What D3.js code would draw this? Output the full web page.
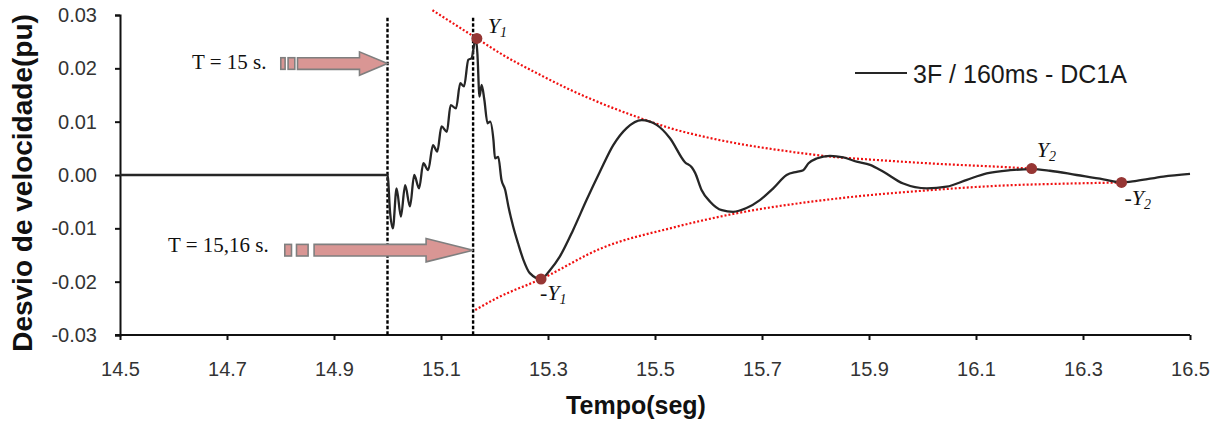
<!DOCTYPE html>
<html>
<head>
<meta charset="utf-8">
<script src="https://cdn.jsdelivr.net/npm/d3@7"></script>
<style>
  body { margin: 0; background: #fff; }
  svg { display: block; }
</style>
</head>
<body>
<script>
// curva 3F / 160ms - DC1A
const tempo = [14.5, 15.0, 15.005, 15.010, 15.017, 15.025, 15.033, 15.042, 15.050, 15.059,
  15.067, 15.076, 15.085, 15.093, 15.101, 15.111, 15.118, 15.128, 15.136, 15.143,
  15.151, 15.157, 15.165, 15.168, 15.172, 15.176, 15.181, 15.187, 15.192, 15.198,
  15.201, 15.207, 15.213, 15.220, 15.226, 15.235, 15.244, 15.254, 15.266, 15.287,
  15.304, 15.322, 15.347, 15.372, 15.397, 15.422, 15.447, 15.475, 15.503, 15.528,
  15.556, 15.569, 15.575, 15.587, 15.603, 15.625, 15.646, 15.671, 15.696, 15.721,
  15.746, 15.765, 15.777, 15.787, 15.802, 15.827, 15.852, 15.877, 15.902, 15.927,
  15.964, 16.008, 16.045, 16.083, 16.120, 16.164, 16.204, 16.238, 16.288, 16.338,
  16.372, 16.400, 16.450, 16.5];
const desvio = [0, 0, -0.0072, -0.0100, -0.0025, -0.0078, -0.0019, -0.0059, 0.0000, -0.0025,
  0.0022, 0.0009, 0.0056, 0.0044, 0.0091, 0.0081, 0.0131, 0.0125, 0.0172, 0.0166,
  0.0216, 0.0219, 0.0257, 0.0228, 0.0147, 0.0169, 0.0141, 0.0097, 0.0100, 0.0066,
  0.0031, 0.0034, -0.0009, -0.0028, -0.0059, -0.0097, -0.0128, -0.0159, -0.0184, -0.0195,
  -0.0178, -0.0153, -0.0103, -0.0047, 0.0006, 0.0056, 0.0088, 0.0103, 0.0094, 0.0069,
  0.0024, 0.0014, 0.0004, -0.0028, -0.0050, -0.0066, -0.0069, -0.0062, -0.0047, -0.0025,
  0.0000, 0.0006, 0.0009, 0.0022, 0.0031, 0.0036, 0.0033, 0.0025, 0.0019, 0.0006,
  -0.0016, -0.0025, -0.0022, -0.0009, 0.0003, 0.0009, 0.0011, 0.0008, 0.0000, -0.0008,
  -0.0014, -0.0011, -0.0003, 0.0002];

// envoltorias (pontilhado vermelho)
const envSupT = [15.084, 15.167, 15.216, 15.279, 15.341, 15.403, 15.466, 15.528, 15.609, 15.759, 15.833, 15.902, 16.027, 16.151, 16.204];
const envSupV = [0.0309, 0.0256, 0.0225, 0.0191, 0.0160, 0.0133, 0.0109, 0.0088, 0.0068, 0.0043, 0.0034, 0.0029, 0.0021, 0.0015, 0.0012];
const envInfT = [15.164, 15.204, 15.287, 15.403, 15.528, 15.646, 15.833, 16.020, 16.145, 16.276, 16.372];
const envInfV = [-0.0253, -0.0231, -0.0195, -0.0136, -0.0100, -0.0073, -0.0045, -0.0028, -0.0020, -0.0016, -0.0014];

// pontos Y1, -Y1, Y2, -Y2
const picoT = [15.167, 15.287, 16.204, 16.372];
const picoV = [0.0256, -0.0195, 0.0012, -0.0014];
const picoNome = ['Y', '-Y', 'Y', '-Y'];
const picoIdx = ['1', '1', '2', '2'];

const falta = [15.0, 15.16];
const xTicks = [14.5, 14.7, 14.9, 15.1, 15.3, 15.5, 15.7, 15.9, 16.1, 16.3, 16.5];
const yTicks = [0.03, 0.02, 0.01, 0.00, -0.01, -0.02, -0.03];

const W = 1220, H = 423;

function desenha() {
  const svg = d3.select(document.body).append('svg')
    .attr('width', W)
    .attr('height', H);

  const x = d3.scaleLinear().domain([14.5, 16.5]).range([120, 1190]);
  const y = d3.scaleLinear().domain([-0.03, 0.03]).range([335, 15]);

  // eixos
  const ax = svg.append('g')
    .attr('transform', `translate(0,${y(-0.03)})`)
    .call(d3.axisBottom(x).tickValues(xTicks).tickFormat(d3.format('.1f')).tickSize(5).tickPadding(22));
  const ay = svg.append('g')
    .attr('transform', `translate(${x(14.5)},0)`)
    .call(d3.axisLeft(y).tickValues(yTicks).tickFormat(d => d3.format('.2f')(d).replace('−', '-')).tickSize(5).tickPadding(18));
  [ax, ay].forEach(g => {
    g.select('.domain').attr('stroke', '#111').attr('stroke-width', 2);
    g.selectAll('.tick line').attr('stroke', '#111').attr('stroke-width', 2);
    g.selectAll('.tick text')
      .attr('fill', '#333')
      .style('font-family', 'Arial, "Liberation Sans", sans-serif')
      .style('font-size', '20px');
  });
  ax.select('.domain').attr('d', `M${x(14.5) - 5},0H${x(16.5)}`);

  // linhas verticais tracejadas
  svg.selectAll('.falta').data(falta).enter().append('line')
    .attr('x1', d => x(d)).attr('x2', d => x(d))
    .attr('y1', y(0.0295)).attr('y2', y(-0.03))
    .attr('stroke', '#000').attr('stroke-width', 2.4)
    .attr('stroke-dasharray', '3.5,2');

  // envoltorias
  const env = d3.line().x(d => x(d[0])).y(d => y(d[1])).curve(d3.curveMonotoneX);
  [[envSupT, envSupV], [envInfT, envInfV]].forEach(e => {
    svg.append('path')
      .attr('d', env(d3.zip(e[0], e[1])))
      .attr('fill', 'none')
      .attr('stroke', '#f01010')
      .attr('stroke-width', 2.2)
      .attr('stroke-dasharray', '2,2');
  });

  // curva
  const linha = d3.line().x(d => x(d[0])).y(d => y(d[1])).curve(d3.curveMonotoneX);
  svg.append('path')
    .attr('d', linha(d3.zip(tempo, desvio)))
    .attr('fill', 'none')
    .attr('stroke', '#262626')
    .attr('stroke-width', 2.3)
    .attr('stroke-linejoin', 'round');

  // marcadores
  svg.selectAll('.pico').data(d3.zip(picoT, picoV)).enter().append('circle')
    .attr('cx', d => x(d[0])).attr('cy', d => y(d[1]))
    .attr('r', 5.5)
    .attr('fill', '#963634');

  // rotulos Y1, -Y1 ...
  const off = [[11, -5], [-1, 21], [5, -12], [3, 23]];
  picoT.forEach((t, i) => {
    const tx = svg.append('text')
      .attr('x', x(t) + off[i][0])
      .attr('y', y(picoV[i]) + off[i][1])
      .style('font-family', '"Liberation Serif", "Times New Roman", serif')
      .style('font-style', 'italic')
      .style('font-size', '22px')
      .attr('fill', '#111');
    tx.append('tspan').text(picoNome[i]);
    tx.append('tspan').attr('dy', 4).style('font-size', '14px').text(picoIdx[i]);
  });

  // setas
  seta(svg, x(15.0), y(0.0209), 28, 62, [[-99.4, 6.7], [-106.7, 4.3]]);
  seta(svg, x(15.16), y(-0.0141), 47, 112, [[-176.6, 11.6], [-188.3, 6.7]]);

  const serif = '"Liberation Serif", "Times New Roman", serif';
  svg.append('text').attr('x', 192).attr('y', 69)
    .style('font-family', serif).style('font-size', '21px').attr('fill', '#111')
    .text('T = 15 s.');
  svg.append('text').attr('x', 168).attr('y', 252)
    .style('font-family', serif).style('font-size', '21px').attr('fill', '#111')
    .text('T = 15,16 s.');

  // legenda
  svg.append('line')
    .attr('x1', 855).attr('x2', 907).attr('y1', 73).attr('y2', 73)
    .attr('stroke', '#262626').attr('stroke-width', 2.2);
  svg.append('text').attr('x', 913).attr('y', 83)
    .style('font-family', 'Arial, "Liberation Sans", sans-serif')
    .style('font-size', '25px').attr('fill', '#1a1a1a')
    .text('3F / 160ms - DC1A');

  // titulos dos eixos
  svg.append('text')
    .attr('transform', 'translate(32,183) rotate(-90)')
    .attr('text-anchor', 'middle')
    .style('font-family', 'Arial, "Liberation Sans", sans-serif')
    .style('font-size', '28px').style('font-weight', 'bold')
    .attr('fill', '#111')
    .text('Desvio de velocidade(pu)');
  svg.append('text')
    .attr('x', 636).attr('y', 414)
    .attr('text-anchor', 'middle')
    .style('font-family', 'Arial, "Liberation Sans", sans-serif')
    .style('font-size', '25px').style('font-weight', 'bold')
    .attr('fill', '#111')
    .text('Tempo(seg)');
}

// seta bloco com dois retangulos atras
function seta(svg, tx, ty, head, body, pecas) {
  const hh = 11.7, bh = 5.8;
  const b0 = tx - head - body, b1 = tx - head;
  const p = `M${b0},${ty - bh}H${b1}V${ty - hh}L${tx},${ty}L${b1},${ty + hh}V${ty + bh}H${b0}Z`;
  const g = svg.append('g').attr('fill', '#d99694').attr('stroke', '#7f7f7f').attr('stroke-width', 1.6);
  g.append('path').attr('d', p);
  pecas.forEach(r => {
    g.append('rect')
      .attr('x', tx + r[0]).attr('y', ty - bh)
      .attr('width', r[1]).attr('height', 2 * bh);
  });
}

window.onload = function() {
  desenha();
};
</script>
</body>
</html>
